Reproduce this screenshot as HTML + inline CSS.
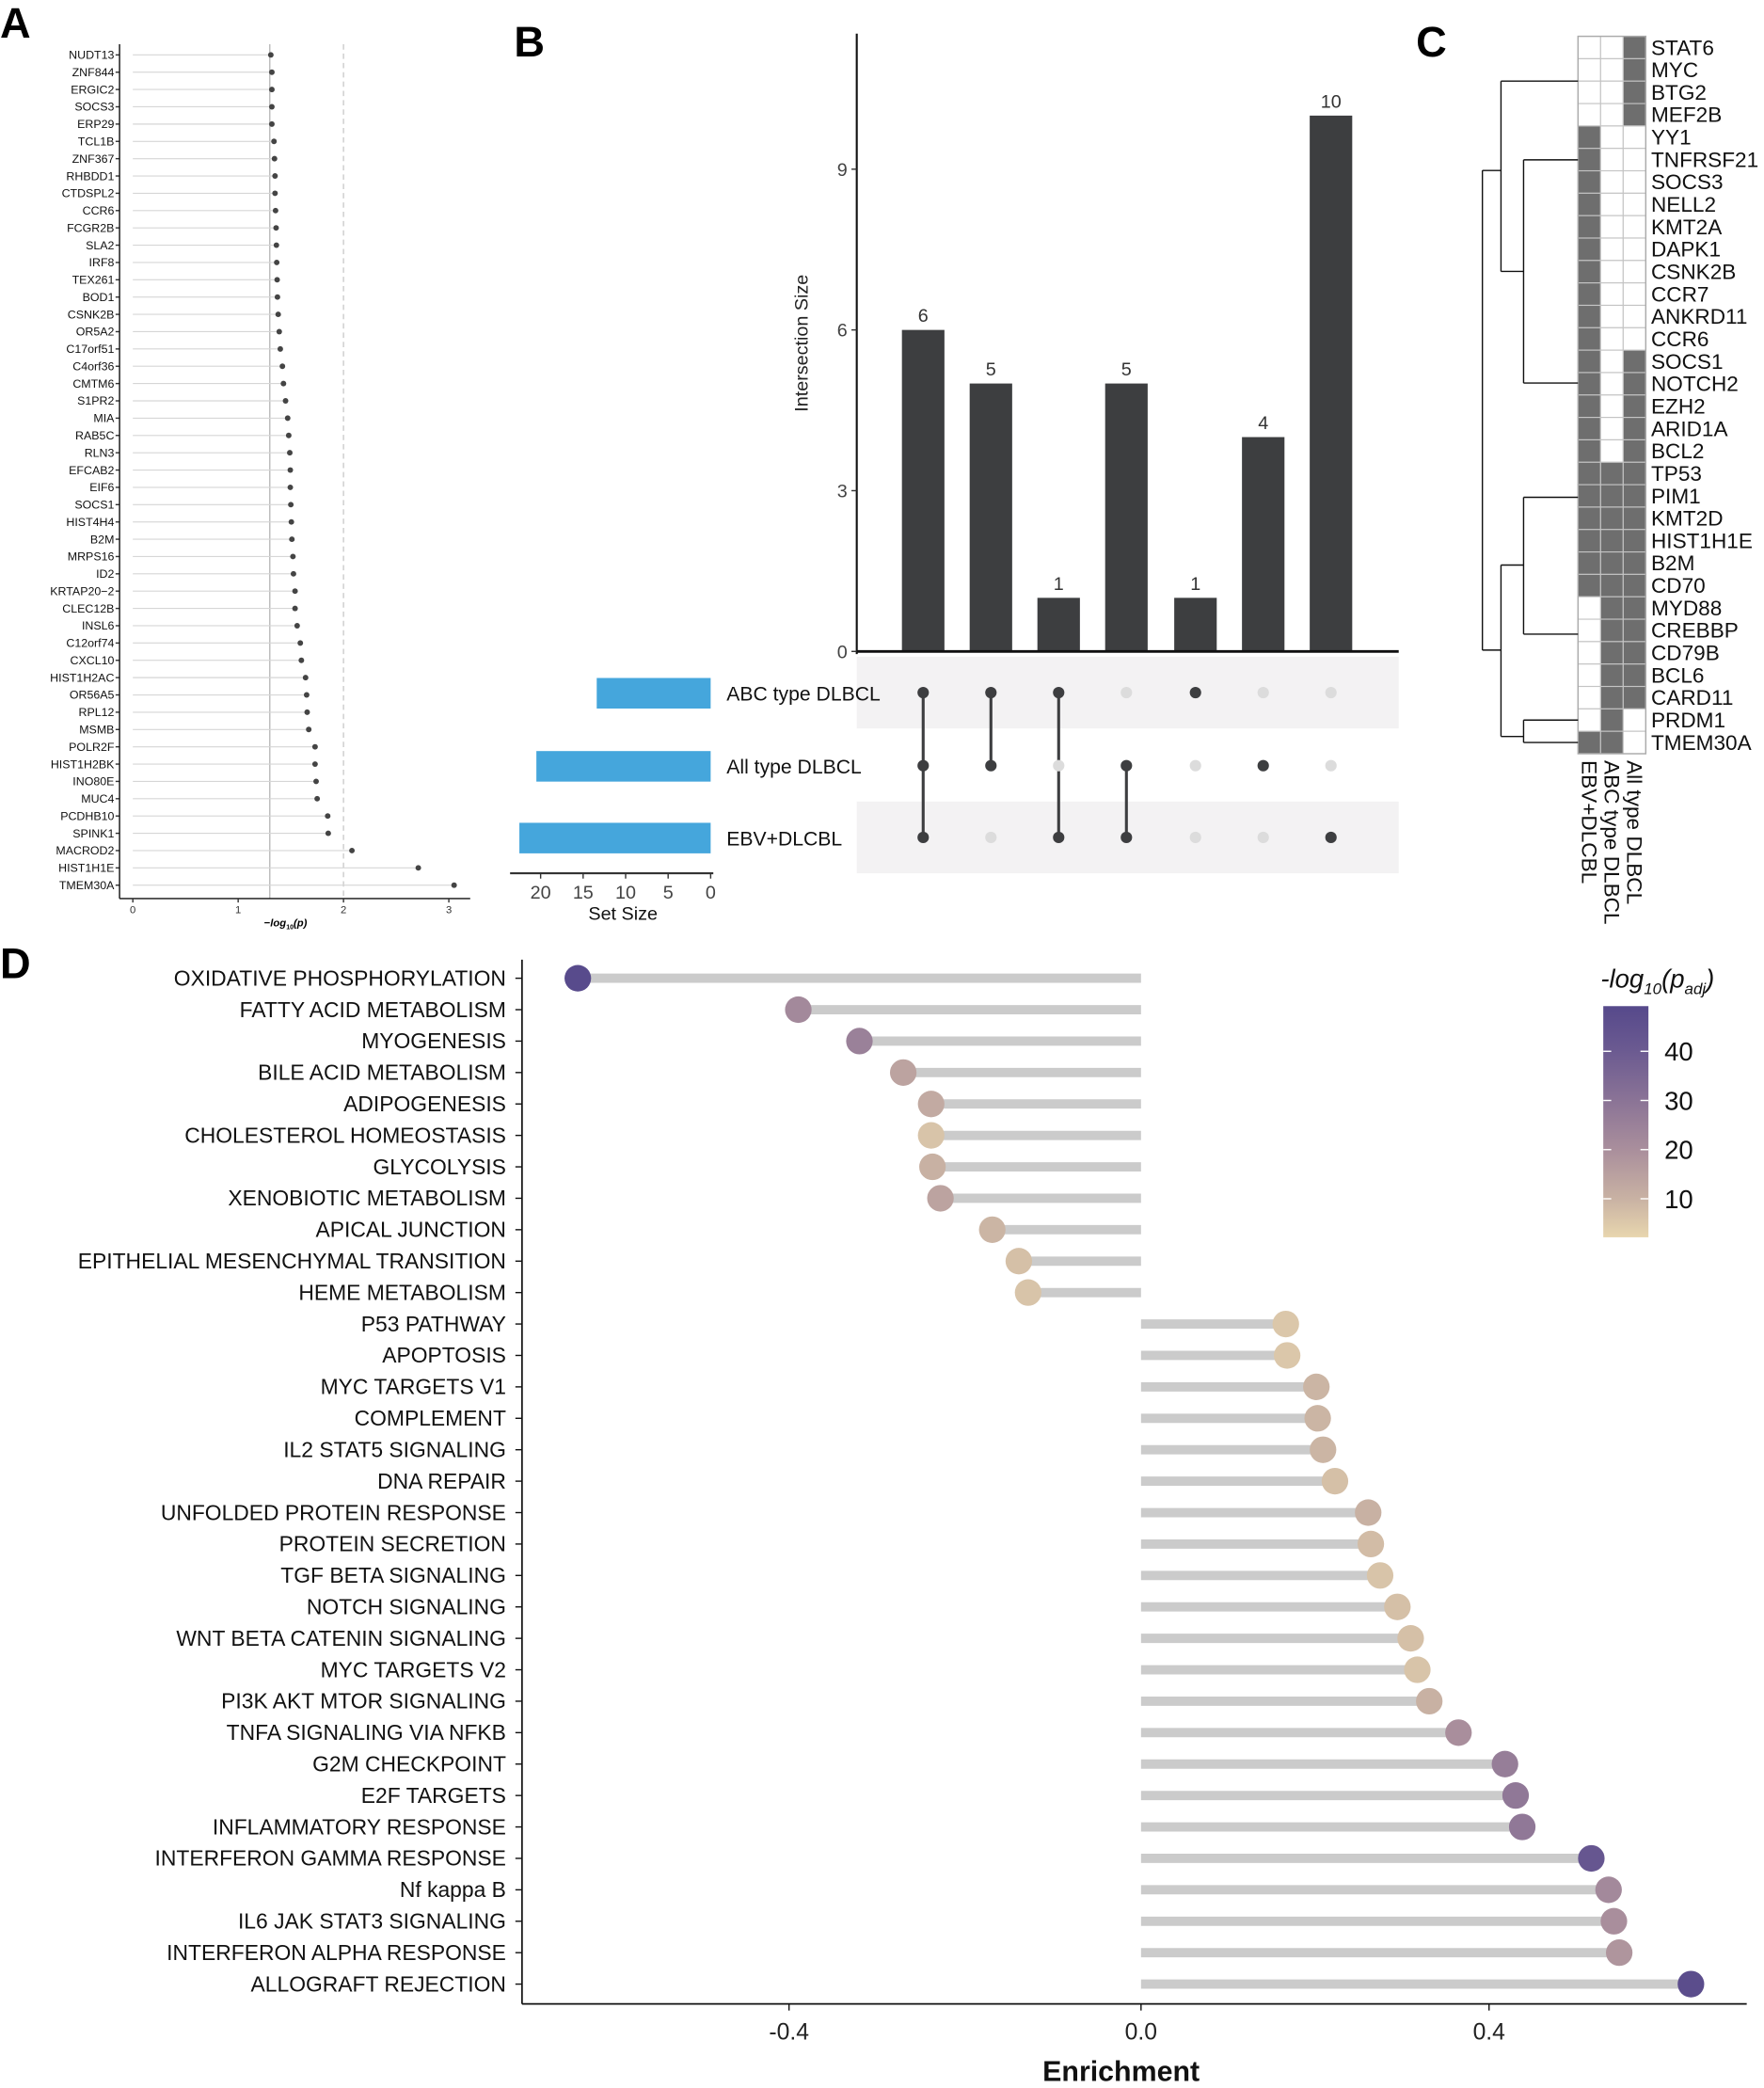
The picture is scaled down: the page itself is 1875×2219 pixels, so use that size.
<!DOCTYPE html>
<html><head><meta charset="utf-8"><style>html,body{margin:0;padding:0;background:#fff}svg{display:block}text{font-family:"Liberation Sans",sans-serif}</style></head>
<body>
<svg id="s" width="1875" height="2219" viewBox="0 0 1328 1571" xmlns="http://www.w3.org/2000/svg">
<rect width="1328" height="1571" fill="#fff"/>
<g id="g"></g>
</svg>
<script>
const g=document.getElementById('g');let h='';
const T=(x,y,t,o='')=>{h+=`<text x="${x}" y="${y}" ${o}>${t}</text>`};
const L=(x1,y1,x2,y2,o)=>{h+=`<line x1="${x1}" y1="${y1}" x2="${x2}" y2="${y2}" ${o}/>`};
T(0,28,'A','font-size="32" font-weight="bold"');T(387,42,'B','font-size="32" font-weight="bold"');
T(1066,42,'C','font-size="32" font-weight="bold"');T(0,736,'D','font-size="32" font-weight="bold"');
const A=[["NUDT13",1.31],["ZNF844",1.32],["ERGIC2",1.32],["SOCS3",1.32],["ERP29",1.32],["TCL1B",1.34],["ZNF367",1.345],["RHBDD1",1.35],["CTDSPL2",1.35],["CCR6",1.355],["FCGR2B",1.36],["SLA2",1.363],["IRF8",1.366],["TEX261",1.37],["BOD1",1.373],["CSNK2B",1.38],["OR5A2",1.39],["C17orf51",1.40],["C4orf36",1.42],["CMTM6",1.43],["S1PR2",1.45],["MIA",1.47],["RAB5C",1.48],["RLN3",1.49],["EFCAB2",1.495],["EIF6",1.495],["SOCS1",1.50],["HIST4H4",1.505],["B2M",1.51],["MRPS16",1.52],["ID2",1.525],["KRTAP20\u22122",1.54],["CLEC12B",1.54],["INSL6",1.56],["C12orf74",1.59],["CXCL10",1.60],["HIST1H2AC",1.64],["OR56A5",1.65],["RPL12",1.655],["MSMB",1.67],["POLR2F",1.73],["HIST1H2BK",1.73],["INO80E",1.74],["MUC4",1.75],["PCDHB10",1.85],["SPINK1",1.855],["MACROD2",2.08],["HIST1H1E",2.71],["TMEM30A",3.05]];
const ax=v=>100+v*79.3;
L(ax(1.3),33,ax(1.3),676,'stroke="#bbb" stroke-width="1"');
L(ax(2),33,ax(2),676,'stroke="#ccc" stroke-width="1" stroke-dasharray="4,3"');
A.forEach((d,i)=>{const y=41+i*13.02;L(100,y,ax(d[1]),y,'stroke="#d6d6d6" stroke-width="0.8"');
h+=`<circle cx="${ax(d[1])}" cy="${y}" r="2.1" fill="#444"/>`;L(87,y,90,y,'stroke="#333"');
T(86,y+3,d[0],'font-size="8.8" text-anchor="end" fill="#111"');});
L(90,33,90,676,'stroke="#111" stroke-width="1"');L(90,676,354,676,'stroke="#111" stroke-width="1"');
[0,1,2,3].forEach(v=>{L(ax(v),676,ax(v),679,'stroke="#333"');T(ax(v),687,v,'font-size="8" text-anchor="middle" fill="#333"')});
T(215,697,'\u2212<tspan font-style="italic">log</tspan><tspan font-size="5" dy="2">10</tspan><tspan dy="-2" font-style="italic">(p)</tspan>','font-size="8" font-weight="bold" text-anchor="middle"');
const by=v=>490-v*40.33,cx=[695,746,797,848,900,951,1002],bv=[6,5,1,5,1,4,10];
h+=`<rect x="645" y="494" width="408" height="54" fill="#f3f2f3"/><rect x="645" y="603" width="408" height="54" fill="#f3f2f3"/>`;
cx.forEach((x,i)=>{h+=`<rect x="${x-16}" y="${by(bv[i])}" width="32" height="${490-by(bv[i])}" fill="#3d3e40"/>`;T(x,by(bv[i])-6,bv[i],'font-size="14" text-anchor="middle" fill="#333"');});
L(645,25,645,492,'stroke="#111" stroke-width="1.5"');L(645,490,1053,490,'stroke="#111" stroke-width="2"');
[0,3,6,9].forEach(v=>{L(641,by(v),645,by(v),'stroke="#333"');T(638,by(v)+5,v,'font-size="14" text-anchor="end" fill="#444"')});
T(0,0,'Intersection Size',`font-size="14" text-anchor="middle" fill="#222" transform="translate(608,258) rotate(-90)"`);
const ry=[521,576,630];
const M=[[1,1,1],[1,1,0],[1,0,1],[0,1,1],[1,0,0],[0,1,0],[0,0,1]];
M.forEach((m,i)=>{const on=ry.filter((y,k)=>m[k]);if(on.length>1)L(cx[i],on[0],cx[i],on[on.length-1],'stroke="#3d3e40" stroke-width="2.2"');
ry.forEach((y,k)=>{h+=`<circle cx="${cx[i]}" cy="${y}" r="4.3" fill="${m[k]?'#3d3e40':'#dcdcdc'}"/>`})});
const sx=v=>535-v*6.4;
[[13.4,510],[20.5,565],[22.5,619]].forEach(d=>{h+=`<rect x="${sx(d[0])}" y="${d[1]}" width="${535-sx(d[0])}" height="23" fill="#45a6dc"/>`});
[["ABC type DLBCL",527],["All type DLBCL",582],["EBV+DLCBL",636]].forEach(d=>T(547,d[1],d[0],'font-size="15" fill="#111"'));
L(384,657,537,657,'stroke="#333" stroke-width="1.5"');
[20,15,10,5,0].forEach(v=>{L(sx(v),657,sx(v),661,'stroke="#333"');T(sx(v),676,v,'font-size="14" text-anchor="middle" fill="#444"')});
T(469,692,'Set Size','font-size="14" text-anchor="middle" fill="#111"');
const C=["STAT6","MYC","BTG2","MEF2B","YY1","TNFRSF21","SOCS3","NELL2","KMT2A","DAPK1","CSNK2B","CCR7","ANKRD11","CCR6","SOCS1","NOTCH2","EZH2","ARID1A","BCL2","TP53","PIM1","KMT2D","HIST1H1E","B2M","CD70","MYD88","CREBBP","CD79B","BCL6","CARD11","PRDM1","TMEM30A"];
const pat=i=>i<4?[0,0,1]:i<14?[1,0,0]:i<19?[1,0,1]:i<25?[1,1,1]:i<30?[0,1,1]:i==30?[0,1,0]:[1,1,0];
const rh=540/32;
C.forEach((n,i)=>{const y=27+i*rh;pat(i).forEach((f,k)=>{h+=`<rect x="${1188+k*17}" y="${y}" width="17" height="${rh}" fill="${f?'#6e6e6e':'#fff'}" stroke="#c4c4c4" stroke-width="0.8"/>`});
T(1243,y+rh/2+5.5,n,'font-size="16" fill="#111"');});
h+=`<rect x="1188" y="27" width="51" height="540" fill="none" stroke="#aaa" stroke-width="1"/>`;
["EBV+DLCBL","ABC type DLBCL","All type DLBCL"].forEach((n,k)=>T(0,0,n,`font-size="16" fill="#111" transform="translate(${1191+k*17},572) rotate(90)"`));
const P=(d)=>{h+=`<path d="${d}" fill="none" stroke="#111" stroke-width="1"/>`};
const yr=i=>27+(i+0.5)*rh;
P(`M1188 ${(yr(0)+yr(3))/2} H1130 M1188 120 H1147 M1188 288 H1147 M1147 120 V288 M1147 204 H1130 M1130 ${(yr(0)+yr(3))/2} V204 M1130 128 H1116`);
P(`M1188 374 H1147 M1188 477 H1147 M1147 374 V477 M1147 425 H1130 M1188 ${yr(30)} H1147 M1188 ${yr(31)} H1147 M1147 ${yr(30)} V${yr(31)} M1147 554 H1130 M1130 425 V554 M1130 489 H1116 M1116 128 V489`);
const D=[["OXIDATIVE PHOSPHORYLATION",435,48],["FATTY ACID METABOLISM",601,22],["MYOGENESIS",647,25],["BILE ACID METABOLISM",680,14],["ADIPOGENESIS",701,12],["CHOLESTEROL HOMEOSTASIS",701,5],["GLYCOLYSIS",702,10],["XENOBIOTIC METABOLISM",708,14],["APICAL JUNCTION",747,9],["EPITHELIAL MESENCHYMAL TRANSITION",767,6],["HEME METABOLISM",774,5],["P53 PATHWAY",968,4],["APOPTOSIS",969,4],["MYC TARGETS V1",991,9],["COMPLEMENT",992,9],["IL2 STAT5 SIGNALING",996,9],["DNA REPAIR",1005,6],["UNFOLDED PROTEIN RESPONSE",1030,10],["PROTEIN SECRETION",1032,7],["TGF BETA SIGNALING",1039,5],["NOTCH SIGNALING",1052,6],["WNT BETA CATENIN SIGNALING",1062,6],["MYC TARGETS V2",1067,5],["PI3K AKT MTOR SIGNALING",1076,10],["TNFA SIGNALING VIA NFKB",1098,20],["G2M CHECKPOINT",1133,26],["E2F TARGETS",1141,28],["INFLAMMATORY RESPONSE",1146,28],["INTERFERON GAMMA RESPONSE",1198,42],["Nf kappa B",1211,22],["IL6 JAK STAT3 SIGNALING",1215,20],["INTERFERON ALPHA RESPONSE",1219,18],["ALLOGRAFT REJECTION",1273,47]];
const stops=[[0,[232,214,174]],[10,[200,177,163]],[20,[169,142,156]],[30,[138,115,150]],[40,[107,90,145]],[49,[86,73,139]]];
const col=v=>{for(let i=1;i<stops.length;i++){if(v<=stops[i][0]){const a=stops[i-1],b=stops[i],t=(v-a[0])/(b[0]-a[0]);return 'rgb('+a[1].map((c,j)=>Math.round(c+(b[1][j]-c)*t)).join(',')+')'}}return 'rgb(86,73,139)'};
D.forEach((d,i)=>{const y=736+i*23.66;L(859,y,d[1],y,'stroke="#cbcbcb" stroke-width="7"');
h+=`<circle cx="${d[1]}" cy="${y}" r="10" fill="${col(d[2])}"/>`;L(388,y,393,y,'stroke="#111"');
T(381,y+5.5,d[0],'font-size="16.2" text-anchor="end" fill="#111"');});
L(393,722,393,1508,'stroke="#111" stroke-width="1.2"');L(393,1508,1315,1508,'stroke="#111" stroke-width="1.2"');
[[-0.4,594],[0.0,859],[0.4,1121]].forEach(d=>{L(d[1],1508,d[1],1513,'stroke="#111"');T(d[1],1535,d[0]<0?'-0.4':d[0].toFixed(1),'font-size="17.5" text-anchor="middle" fill="#222"')});
T(844,1566,'Enrichment','font-size="21.5" font-weight="bold" text-anchor="middle" fill="#111"');
h+=`<defs><linearGradient id="lg" x1="0" y1="1" x2="0" y2="0">${stops.map(s=>`<stop offset="${(s[0]-2)/47}" stop-color="rgb(${s[1]})"/>`).join('')}</linearGradient></defs>`;
h+=`<rect x="1207" y="757" width="34" height="174" fill="url(#lg)"/>`;
[[40,791],[30,828],[20,865],[10,902]].forEach(d=>{L(1207,d[1],1213,d[1],'stroke="#fff"');L(1235,d[1],1241,d[1],'stroke="#fff"');T(1253,d[1]+7,d[0],'font-size="19.5" fill="#111"')});
T(1205,743,'-log<tspan font-size="12" dy="5">10</tspan><tspan dy="-5">(p</tspan><tspan font-size="12" dy="5">adj</tspan><tspan dy="-5">)</tspan>','font-size="19.5" font-style="italic" fill="#111"');
g.innerHTML=h;
</script>
</body></html>
